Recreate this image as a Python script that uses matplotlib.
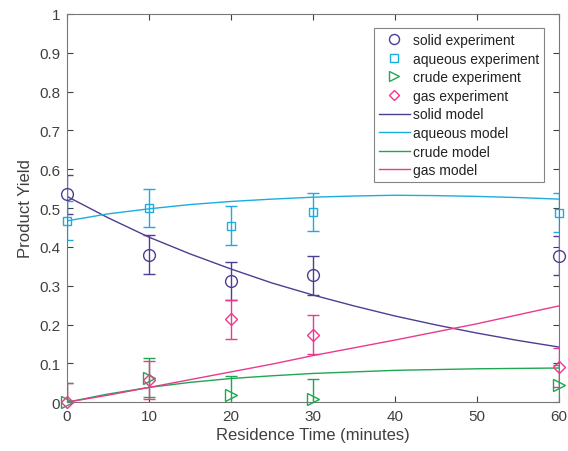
import matplotlib
matplotlib.use("Agg")
import matplotlib.pyplot as plt
from matplotlib.lines import Line2D

plt.rcParams["font.family"] = ["Liberation Sans", "DejaVu Sans"]

# experiment points
t_exp = [0, 10, 20, 30, 60]
solid_exp = [0.535, 0.380, 0.312, 0.327, 0.377]
aqueous_exp = [0.467, 0.500, 0.455, 0.490, 0.488]
crude_exp = [0.000, 0.063, 0.018, 0.009, 0.045]
gas_exp = [0.000, 0.057, 0.214, 0.174, 0.090]
err = 0.05

# model curves
t_mod = [0, 5, 10, 15, 20, 25, 30, 35, 40, 45, 50, 55, 60]
solid_mod = [0.530, 0.475, 0.425, 0.382, 0.343, 0.307, 0.276, 0.248, 0.222, 0.199, 0.178, 0.159, 0.142]
aqueous_mod = [0.467, 0.485, 0.498, 0.509, 0.517, 0.523, 0.528, 0.531, 0.533, 0.532, 0.530, 0.527, 0.523]
crude_mod = [0.000, 0.021, 0.038, 0.051, 0.061, 0.068, 0.074, 0.078, 0.082, 0.084, 0.086, 0.087, 0.088]
gas_mod = [0.000, 0.018, 0.038, 0.058, 0.078, 0.098, 0.120, 0.140, 0.160, 0.181, 0.202, 0.225, 0.248]

c_solid = "#4E3D91"
c_aq = "#1CADDF"
c_crude = "#1FA650"
c_gas = "#EA3A8E"
grey = "#404040"

fig = plt.figure(figsize=(5.68, 4.52), dpi=100)
ax = fig.add_axes([0.118, 0.108, 0.866, 0.859])

series = [
    ("solid", solid_exp, "o", 8.5, c_solid),
    ("aqueous", aqueous_exp, "s", 6.0, c_aq),
    ("crude", crude_exp, ">", 8.0, c_crude),
    ("gas", gas_exp, "D", 6.5, c_gas),
]
handles = []
for name, vals, mk, ms, col in series:
    ax.errorbar(t_exp, vals, yerr=err, fmt="none", ecolor=col,
                elinewidth=1.0, capsize=4, capthick=1.0)
    ax.plot(t_exp, vals, ls="none", marker=mk, ms=ms, mfc="none", mec=col,
            mew=1.0, clip_on=False, zorder=4)
    handles.append(Line2D([], [], ls="none", marker=mk, ms=ms * 0.85, mfc="none",
                          mec=col, mew=1.0, label=f"{name} experiment"))

for name, vals, col in [("solid", solid_mod, c_solid), ("aqueous", aqueous_mod, c_aq),
                        ("crude", crude_mod, c_crude), ("gas", gas_mod, c_gas)]:
    ln, = ax.plot(t_mod, vals, color=col, lw=1.0, label=f"{name} model")
    handles.append(ln)

ax.set_xlim(0, 60)
ax.set_ylim(0, 1)
ax.set_xticks([0, 10, 20, 30, 40, 50, 60])
ax.set_yticks([i / 10 for i in range(11)])
ax.set_yticklabels(["0", "0.1", "0.2", "0.3", "0.4", "0.5", "0.6", "0.7", "0.8", "0.9", "1"])
ax.tick_params(direction="in", top=True, right=True, length=4, width=0.8,
               colors=grey, labelsize=11, pad=5)
for s in ax.spines.values():
    s.set_color("#777777")
    s.set_linewidth(0.8)
ax.set_xlabel("Residence Time (minutes)", fontsize=12, color=grey, labelpad=3)
ax.set_ylabel("Product Yield", fontsize=12, color=grey, labelpad=4)

leg = ax.legend(handles=handles, loc="upper right", bbox_to_anchor=(0.97, 0.963),
                fontsize=10, frameon=True, fancybox=False, edgecolor="#666666",
                handlelength=2.2, borderpad=0.35, labelspacing=0.33,
                handletextpad=0.25, borderaxespad=0)
leg.get_frame().set_linewidth(0.8)
for txt in leg.get_texts():
    txt.set_color("#222222")

fig.savefig("out.png", dpi=100)
